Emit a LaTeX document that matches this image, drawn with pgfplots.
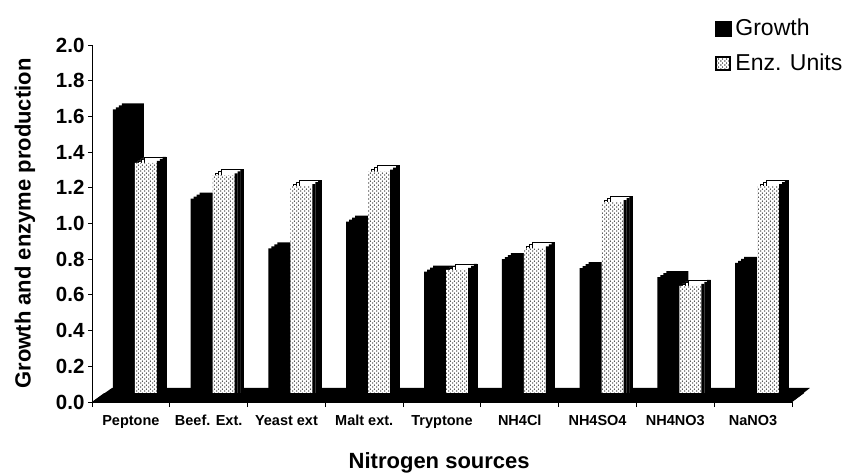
\documentclass[border=0pt]{standalone}
\usepackage{pgfplots}
\pgfplotsset{compat=1.18}
\usepackage{pgfplotstable}
\usetikzlibrary{patterns.meta}
\usepackage{fontspec}
\setmainfont{Liberation Sans}

% staggered dot fill used for the enzyme bars
\tikzdeclarepattern{
  name=enzdots,
  type=uncolored,
  bottom left={(0pt,0pt)},
  top right={(4pt,4.4pt)},
  tile size={(4pt,4.4pt)},
  code={
    \fill (1pt,1.1pt) circle (0.78pt);
    \fill (3pt,3.3pt) circle (0.78pt);
  }
}

\pgfplotstableread{
idx g    e
0   1.64 1.34
1   1.14 1.27
2   0.86 1.21
3   1.01 1.29
4   0.73 0.74
5   0.80 0.86
6   0.75 1.12
7   0.70 0.65
8   0.78 1.21
}\nitrogen

\begin{document}
\begin{tikzpicture}
\useasboundingbox (0,0) rectangle (844pt,474pt);
\begin{axis}[
  at={(92pt,72pt)}, anchor=south west,
  scale only axis, width=700pt, height=357pt,
  xmin=-0.5, xmax=8.5, ymin=0, ymax=2.0,
  clip=false,
  axis x line*=bottom, axis y line*=left,
  axis line style={black, line width=0.8pt, -},
  tick align=outside,
  xtick={0,...,8},
  xticklabels={Peptone, Beef. Ext., Yeast ext, Malt ext., Tryptone, NH4Cl, NH4SO4, NH4NO3, NaNO3},
  minor xtick={-0.5,0.5,...,8.5},
  major x tick style={draw=none},
  minor x tick style={black, line width=0.8pt},
  minor tick length=5pt,
  major tick length=4pt,
  ytick={0,0.2,0.4,0.6,0.8,1.0,1.2,1.4,1.6,1.8,2.0},
  ytick style={black, line width=0.8pt},
  /pgf/number format/assume math mode=true,
  yticklabel style={font=\fontsize{20.5}{20.5}\selectfont\bfseries,
    /pgf/number format/fixed, /pgf/number format/fixed zerofill,
    /pgf/number format/precision=1},
  xticklabel style={font=\fontsize{14.5}{14.5}\selectfont\bfseries, anchor=base, yshift=-20pt},
  every axis x label/.style={at={(axis description cs:0.496,-0.1695)}, anchor=center},
  every axis y label/.style={at={(axis description cs:-0.0957,0.5)}, rotate=90, anchor=center},
  xlabel={Nitrogen sources},
  ylabel={Growth and enzyme production},
  label style={font=\fontsize{22}{22}\selectfont\bfseries},
  legend style={at={(axis description cs:0.89,1.073)}, anchor=north west,
    draw=none, fill=none, inner sep=0pt, row sep=17pt,
    font=\fontsize{23}{23}\selectfont,
    nodes={inner sep=0pt}},
  legend cell align=left,
]
% floor of the chart
\fill[black] (axis cs:-0.5,0) -- (axis cs:-0.243,0.0785) -- (axis cs:8.73,0.0785) -- (axis cs:8.5,0) -- cycle;

% Growth: depth layers, then front face
\addplot[ybar, bar width=22pt, bar shift=2pt, fill=black, draw=none, forget plot]
  table[x=idx, y expr=\thisrow{g}+0.0336] {\nitrogen};
\addplot[ybar, bar width=22pt, bar shift=-1pt, fill=black, draw=none, forget plot]
  table[x=idx, y expr=\thisrow{g}+0.0224] {\nitrogen};
\addplot[ybar, bar width=22pt, bar shift=-4pt, fill=black, draw=none, forget plot]
  table[x=idx, y expr=\thisrow{g}+0.0112] {\nitrogen};
\addplot[ybar, bar width=22pt, bar shift=-7pt, fill=black, draw=none, forget plot]
  table[x=idx, y=g] {\nitrogen};

% Enz. Units: top face layers
\addplot[ybar, bar width=22pt, bar shift=18pt, fill=white, draw=black, line width=0.6pt, forget plot]
  table[x=idx, y expr=\thisrow{e}+0.0112] {\nitrogen};
\addplot[ybar, bar width=22pt, bar shift=21pt, fill=white, draw=black, line width=0.6pt, forget plot]
  table[x=idx, y expr=\thisrow{e}+0.0224] {\nitrogen};
\addplot[ybar, bar width=22pt, bar shift=24pt, fill=white, draw=black, line width=0.6pt, forget plot]
  table[x=idx, y expr=\thisrow{e}+0.0336] {\nitrogen};
% front face
\addplot[ybar, bar width=22pt, bar shift=15pt, fill=white, draw=none,
  postaction={pattern=enzdots, pattern color=black}, forget plot]
  table[x=idx, y=e] {\nitrogen};
% side face
\addplot[ybar, bar width=3pt, bar shift=27.5pt, fill=black, draw=none, forget plot]
  table[x=idx, y expr=\thisrow{e}+0.0112] {\nitrogen};
\addplot[ybar, bar width=3pt, bar shift=30.5pt, fill=black, draw=none, forget plot]
  table[x=idx, y expr=\thisrow{e}+0.0224] {\nitrogen};
\addplot[ybar, bar width=3.4pt, bar shift=33.5pt, fill=black, draw=none, forget plot]
  table[x=idx, y expr=\thisrow{e}+0.0336] {\nitrogen};

% front edge of the floor
\fill[black] (axis cs:-0.5,0) -- (axis cs:-0.343,0.05) -- (axis cs:8.657,0.05) -- (axis cs:8.5,0) -- cycle;

\addlegendimage{legend image code/.code={\fill[black] (0pt,-7.5pt) rectangle (16pt,7.5pt);}}
\addlegendentry{\,Growth}
\addlegendimage{legend image code/.code={\draw[fill=white, line width=2pt, postaction={pattern=enzdots}] (1pt,-6.5pt) rectangle (15pt,6.5pt);}}
\addlegendentry{\,Enz. Units}
\end{axis}
\end{tikzpicture}
\end{document}
